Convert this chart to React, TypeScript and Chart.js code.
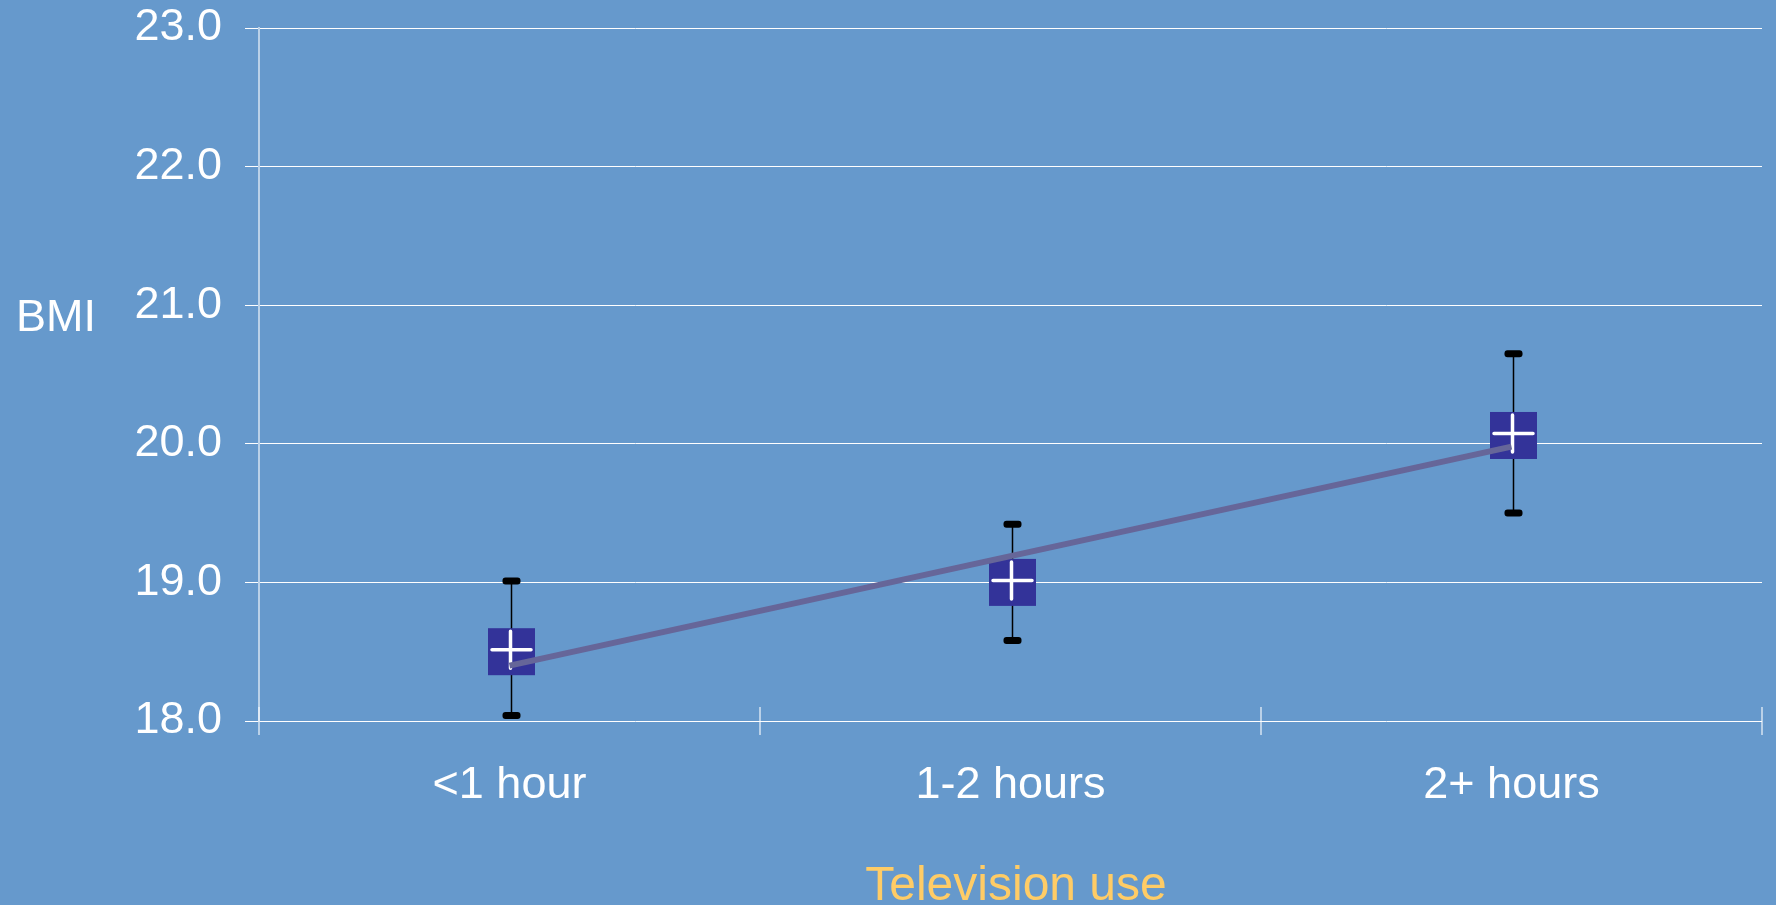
import React, { useEffect, useRef } from "react";
import { Chart, registerables } from "chart.js";

Chart.register(...registerables);

const categories = ["<1 hour", "1-2 hours", "2+ hours"];
const meanValues = [18.5, 19.0, 20.06];
const upperValues = [19.01, 19.42, 20.65];
const lowerValues = [18.04, 18.58, 19.5];
const trendValues = [18.4, 19.19, 19.98];
const yTicks = [18, 19, 20, 21, 22, 23];

const FONT = "'Liberation Sans', Arial, sans-serif";
const BG = "#6699CC";

const markerPlugin = {
  id: "markers",
  beforeDraw(chart: any) {
    const { ctx, width, height } = chart;
    ctx.save();
    ctx.fillStyle = BG;
    ctx.fillRect(0, 0, width, height);
    ctx.restore();
  },
  beforeDatasetsDraw(chart: any) {
    const { ctx } = chart;
    const xs = chart.scales.x;
    const ys = chart.scales.y;
    ctx.save();
    const n = categories.length;
    ctx.strokeStyle = "rgba(255,255,255,0.55)";
    ctx.lineWidth = 2;
    for (let i = 0; i <= n; i++) {
      const x = xs.left + (i * (xs.right - xs.left)) / n;
      ctx.beginPath();
      ctx.moveTo(x, ys.bottom - 14);
      ctx.lineTo(x, ys.bottom);
      ctx.stroke();
    }
    categories.forEach((_, i) => {
      const x = xs.getPixelForValue(i) + 2;
      const yT = ys.getPixelForValue(upperValues[i]);
      const yB = ys.getPixelForValue(lowerValues[i]);
      const yM = ys.getPixelForValue(meanValues[i]);
      ctx.strokeStyle = "#000";
      ctx.lineWidth = 1.5;
      ctx.beginPath();
      ctx.moveTo(x, yT);
      ctx.lineTo(x, yB);
      ctx.stroke();
      ctx.fillStyle = "#000";
      [yT, yB].forEach((yy) => {
        ctx.beginPath();
        (ctx as any).roundRect(x - 9, yy - 3.5, 18, 7, 3);
        ctx.fill();
      });
      ctx.fillStyle = "#333399";
      ctx.fillRect(x - 23.5, yM - 23.5, 47, 47);
      ctx.strokeStyle = "#fff";
      ctx.lineWidth = 3.5;
      ctx.lineCap = "round";
      ctx.beginPath();
      ctx.moveTo(x - 19.5, yM - 2);
      ctx.lineTo(x + 19.5, yM - 2);
      ctx.moveTo(x - 1, yM - 20.5);
      ctx.lineTo(x - 1, yM + 16.5);
      ctx.stroke();
    });
    ctx.restore();
  },
  afterDraw(chart: any) {
    const { ctx } = chart;
    ctx.save();
    ctx.fillStyle = "#fff";
    ctx.font = `45px ${FONT}`;
    ctx.textAlign = "left";
    ctx.textBaseline = "alphabetic";
    ctx.fillText("BMI", 16, 331);
    ctx.fillStyle = "#FFCC66";
    ctx.font = `48px ${FONT}`;
    ctx.textAlign = "center";
    ctx.fillText("Television use", 1016, 900);
    ctx.restore();
  },
};

export default function App() {
  const ref = useRef<HTMLCanvasElement>(null);
  useEffect(() => {
    if (!ref.current) return;
    const chart = new Chart(ref.current, {
      type: "line",
      data: {
        labels: categories,
        datasets: [
          {
            data: trendValues,
            borderColor: "#666699",
            borderWidth: 6,
            pointRadius: 0,
            fill: false,
            tension: 0,
          },
        ],
      },
      options: {
        animation: false,
        responsive: true,
        maintainAspectRatio: false,
        layout: { padding: { top: 28, right: 14, bottom: 0, left: 0 } },
        plugins: { legend: { display: false }, tooltip: { enabled: false } },
        scales: {
          x: {
            type: "category",
            offset: true,
            border: { display: false },
            grid: {
              offset: true,
              drawOnChartArea: false,
              color: "rgba(255,255,255,0.55)",
              lineWidth: 2,
              tickLength: 14,
            },
            ticks: {
              color: "#fff",
              font: { family: FONT, size: 45 },
              padding: 24,
              maxRotation: 0,
            },
            afterFit: (s: any) => {
              s.height = 184;
              s.paddingLeft = 0;
              s.paddingRight = 0;
            },
          },
          y: {
            min: 18,
            max: 23,
            afterBuildTicks: (s: any) => {
              s.ticks = yTicks.map((v) => ({ value: v }));
            },
            border: { color: "rgba(255,255,255,0.55)", width: 2 },
            grid: { color: "#fff", lineWidth: 1, tickLength: 14 },
            ticks: {
              color: "#fff",
              font: { family: FONT, size: 45 },
              padding: 23,
              callback: (v: any) => Number(v).toFixed(1),
            },
            afterFit: (s: any) => {
              s.width = 259;
              s.paddingTop = 0;
              s.paddingBottom = 0;
            },
          },
        },
      },
      plugins: [markerPlugin],
    });
    return () => chart.destroy();
  }, []);
  return (
    <div style={{ position: "fixed", left: 0, top: 0, width: 1776, height: 905, background: BG }}>
      <canvas ref={ref} />
    </div>
  );
}
